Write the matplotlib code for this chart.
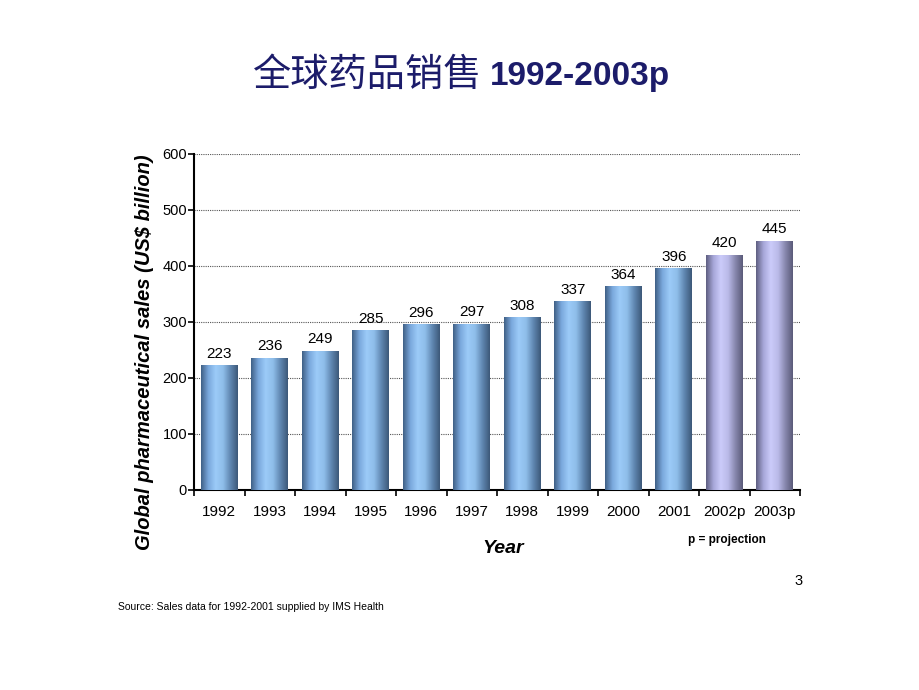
import numpy as np
import matplotlib
matplotlib.use('Agg')
import matplotlib.pyplot as plt
from matplotlib.colors import LinearSegmentedColormap

years = ['1992', '1993', '1994', '1995', '1996', '1997', '1998', '1999',
         '2000', '2001', '2002p', '2003p']
sales = [223, 236, 249, 285, 296, 297, 308, 337, 364, 396, 420, 445]
projected = [False] * 10 + [True, True]

plt.rcParams['font.family'] = ['Liberation Sans', 'Noto Sans CJK SC', 'DejaVu Sans']

blue_cm = LinearSegmentedColormap.from_list(
    'blue', ['#3f5f85', '#7aa8dc', '#9ccbf8', '#8ebde9', '#5f86b0', '#3c5878'])
purple_cm = LinearSegmentedColormap.from_list(
    'purple', ['#5e5e80', '#a6a6d8', '#cbcbfa', '#babae8', '#8686ac', '#5a5a78'])

fig = plt.figure(figsize=(9.2, 6.9), dpi=100)
ax = fig.add_axes([0.2109, 0.2899, 0.6587, 0.4870])

x = np.arange(len(years))
bars = ax.bar(x, sales, width=0.73, facecolor='none', edgecolor='none', zorder=3)

# gradient fill, clipped to each bar
grad = np.linspace(0, 1, 256).reshape(1, -1)
for b, v, p in zip(bars, sales, projected):
    x0, w, h = b.get_x(), b.get_width(), b.get_height()
    im = ax.imshow(grad, cmap=purple_cm if p else blue_cm, aspect='auto',
                   extent=(x0, x0 + w, 0, h), zorder=3)
    im.set_clip_path(b)
    ax.text(x0 + w / 2, h + 8, str(v), ha='center', va='bottom', fontsize=11)

ax.set_xlim(-0.5, len(years) - 0.5)
ax.set_ylim(0, 600)
ax.set_yticks(range(0, 601, 100))
ax.yaxis.grid(True, linestyle=(0, (1, 1)), color='#555555', linewidth=0.8)
ax.set_axisbelow(True)

ax.set_xticks(x)
ax.set_xticklabels(years, fontsize=11)
ax.set_xticks(np.arange(-0.5, len(years), 1), minor=True)
ax.tick_params(axis='x', which='major', length=0, pad=11)
ax.tick_params(axis='x', which='minor', length=4, width=1.2, direction='out')
ax.tick_params(axis='y', length=4, width=1.2, labelsize=10.5, pad=1)

for s in ['top', 'right']:
    ax.spines[s].set_visible(False)
ax.spines['left'].set_linewidth(1.5)
ax.spines['bottom'].set_linewidth(1.5)

fig.text(0.157, 0.49, 'Global pharmaceutical sales (US$ billion)', fontsize=14.5,
         fontweight='bold', fontstyle='italic', rotation=90,
         ha='center', va='center')

fig.text(0.547, 0.205, 'Year', fontsize=14, fontweight='bold',
         fontstyle='italic', ha='center', va='center')
fig.text(0.79, 0.218, 'p = projection', fontsize=8.5, fontweight='bold',
         ha='center', va='center')
fig.text(0.872, 0.158, '3', fontsize=10.5, ha='right', va='center')
fig.text(0.128, 0.121, 'Source: Sales data for 1992-2001 supplied by IMS Health',
         fontsize=7.5, ha='left', va='center')

navy = '#1c1c6a'
fig.text(0.524, 0.891, '全球药品销售', fontsize=27.5, color=navy,
         family=['Noto Sans CJK SC', 'DejaVu Sans'], ha='right', va='center')
fig.text(0.532, 0.889, '1992-2003p', fontsize=24, color=navy,
         fontweight='bold', ha='left', va='center')

fig.savefig('out.png', dpi=100)
